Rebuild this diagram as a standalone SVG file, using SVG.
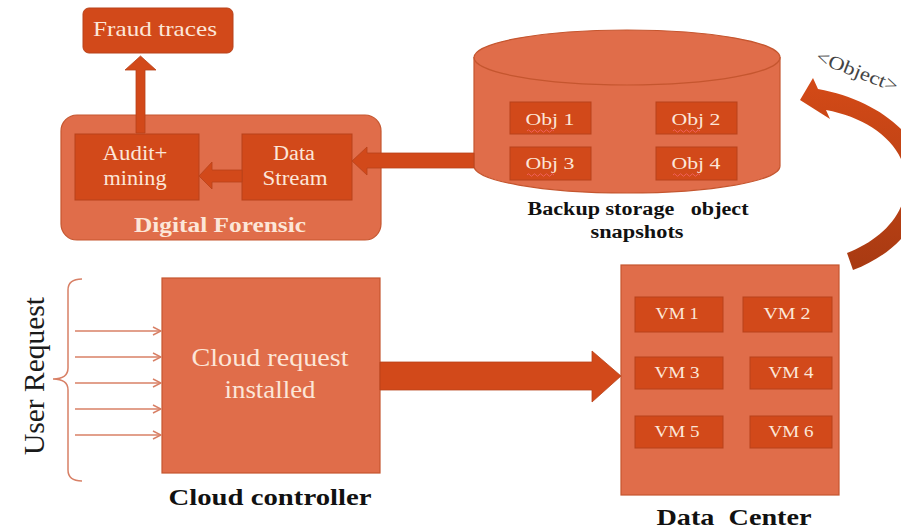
<svg xmlns="http://www.w3.org/2000/svg" width="901" height="532" viewBox="0 0 901 532">
<defs>
<style>
.light{fill:#E06D4A;stroke:#C5562F;stroke-width:1.2}
.dark{fill:#D2491A;stroke:#B8421A;stroke-width:1}
.fat{fill:#D2491A;stroke:#B8421A;stroke-width:0.8}
.in{font-family:"Liberation Serif","Times New Roman",serif;fill:#FCE6D8;text-anchor:middle}
.cap{font-family:"Liberation Serif","Times New Roman",serif;font-weight:bold;fill:#111;text-anchor:middle}
.thin{stroke:#D88066;stroke-width:1.5;fill:none}
.sq{stroke:#F0605A;stroke-width:1;fill:none}
</style>
<marker id="chev" viewBox="0 0 10 10" refX="9" refY="5" markerWidth="10" markerHeight="10" markerUnits="userSpaceOnUse" orient="auto">
<path d="M1 1 L9 5 L1 9" fill="none" stroke="#D88066" stroke-width="1.5"/>
</marker>
<linearGradient id="arcg" x1="0" y1="0" x2="0" y2="1">
<stop offset="0" stop-color="#D44A17"/>
<stop offset="1" stop-color="#A83A12"/>
</linearGradient>
</defs>

<g id="digital-forensic">
<rect class="light" x="61" y="115" width="320" height="125" rx="16"/>
<text class="in" x="220" y="232" font-size="21" font-weight="bold" textLength="172" lengthAdjust="spacingAndGlyphs">Digital Forensic</text>
</g>

<g id="fraud-traces">
<rect class="dark" x="83" y="8" width="150" height="45" rx="6"/>
<text class="in" x="155" y="36" font-size="21" textLength="124" lengthAdjust="spacingAndGlyphs">Fraud traces</text>
</g>

<g id="audit-mining">
<rect class="dark" x="75" y="134" width="124" height="66"/>
<text class="in" x="135" y="160" font-size="20" textLength="65" lengthAdjust="spacingAndGlyphs">Audit+</text>
<text class="in" x="135" y="185" font-size="20" textLength="63" lengthAdjust="spacingAndGlyphs">mining</text>
</g>

<g id="data-stream">
<rect class="dark" x="242" y="134" width="110" height="66"/>
<text class="in" x="294" y="160" font-size="20" textLength="42" lengthAdjust="spacingAndGlyphs">Data</text>
<text class="in" x="295" y="185" font-size="20" textLength="65" lengthAdjust="spacingAndGlyphs">Stream</text>
</g>

<g id="backup-storage">
<path class="light" d="M474 57.5 L474 166 A153 27 0 0 0 780 166 L780 57.5 Z"/>
<ellipse class="light" cx="627" cy="57.5" rx="153" ry="27.5"/>
<rect class="dark" x="510" y="102" width="81" height="32"/>
<rect class="dark" x="656" y="102" width="81" height="32"/>
<rect class="dark" x="510" y="147" width="81" height="33"/>
<rect class="dark" x="656" y="147" width="81" height="33"/>
<text class="in" x="550" y="125" font-size="17" textLength="49" lengthAdjust="spacingAndGlyphs">Obj 1</text>
<text class="in" x="696" y="125" font-size="17" textLength="49" lengthAdjust="spacingAndGlyphs">Obj 2</text>
<text class="in" x="550" y="169" font-size="17" textLength="49" lengthAdjust="spacingAndGlyphs">Obj 3</text>
<text class="in" x="696" y="169" font-size="17" textLength="49" lengthAdjust="spacingAndGlyphs">Obj 4</text>
<path class="sq" d="M527 131 q1.5 -2.5 3 0 t3 0 t3 0 t3 0 t3 0 t3 0 t3 0 t3 0 t3 0"/>
<path class="sq" d="M673 131 q1.5 -2.5 3 0 t3 0 t3 0 t3 0 t3 0 t3 0 t3 0 t3 0 t3 0"/>
<path class="sq" d="M527 175 q1.5 -2.5 3 0 t3 0 t3 0 t3 0 t3 0 t3 0 t3 0 t3 0 t3 0"/>
<path class="sq" d="M673 175 q1.5 -2.5 3 0 t3 0 t3 0 t3 0 t3 0 t3 0 t3 0 t3 0 t3 0"/>
<text class="cap" x="638" y="215" font-size="18" xml:space="preserve" textLength="221" lengthAdjust="spacingAndGlyphs">Backup storage   object</text>
<text class="cap" x="637" y="238" font-size="18" textLength="93" lengthAdjust="spacingAndGlyphs">snapshots</text>
</g>

<g id="user-request">
<text x="0" y="0" transform="translate(44,376) rotate(-90)" font-family="Liberation Serif, Times New Roman, serif" font-size="30" fill="#1a1a1a" text-anchor="middle" textLength="158" lengthAdjust="spacingAndGlyphs">User Request</text>
<path class="thin" d="M82 279 Q68 279 68 290 L68 368 Q68 379 53 379 Q68 379 68 390 L68 470 Q68 481 82 481"/>
</g>

<g id="cloud-controller">
<rect class="light" x="162" y="278" width="218" height="195"/>
<text class="in" x="270" y="366" font-size="26" textLength="157" lengthAdjust="spacingAndGlyphs">Cloud request</text>
<text class="in" x="270" y="398" font-size="26" textLength="91" lengthAdjust="spacingAndGlyphs">installed</text>
<text class="cap" x="270" y="505" font-size="23" textLength="203" lengthAdjust="spacingAndGlyphs">Cloud controller</text>
</g>

<g id="data-center">
<rect class="light" x="621" y="265" width="218" height="230"/>
<rect class="dark" x="635" y="297" width="88" height="35"/>
<rect class="dark" x="743" y="297" width="89" height="35"/>
<rect class="dark" x="635" y="357" width="88" height="32"/>
<rect class="dark" x="750" y="357" width="82" height="32"/>
<rect class="dark" x="635" y="416" width="88" height="32"/>
<rect class="dark" x="750" y="416" width="82" height="32"/>
<text class="in" x="677" y="319" font-size="16" textLength="43" lengthAdjust="spacingAndGlyphs">VM 1</text>
<text class="in" x="787" y="319" font-size="16" textLength="47" lengthAdjust="spacingAndGlyphs">VM 2</text>
<text class="in" x="677" y="378" font-size="16" textLength="45" lengthAdjust="spacingAndGlyphs">VM 3</text>
<text class="in" x="791" y="378" font-size="16" textLength="45" lengthAdjust="spacingAndGlyphs">VM 4</text>
<text class="in" x="677" y="437" font-size="16" textLength="45" lengthAdjust="spacingAndGlyphs">VM 5</text>
<text class="in" x="791" y="437" font-size="16" textLength="45" lengthAdjust="spacingAndGlyphs">VM 6</text>
<text class="cap" x="734" y="525" font-size="23" xml:space="preserve" textLength="155" lengthAdjust="spacingAndGlyphs">Data  Center</text>
</g>

<g id="connectors">
<path class="fat" d="M136 133 L136 70 L125 70 L140.5 56 L156 70 L145 70 L145 133 Z"/>
<path class="fat" d="M242 170 L212 170 L212 162 L199 176 L212 189 L212 182 L242 182 Z"/>
<path class="fat" d="M474 153 L367 153 L367 147 L352 161 L367 175 L367 168 L474 168 Z"/>
<path class="fat" d="M380 362 L592 362 L592 351 L621 376 L592 402 L592 390 L380 390 Z"/>
<line class="thin" x1="75" y1="331" x2="161" y2="331" marker-end="url(#chev)"/>
<line class="thin" x1="75" y1="357" x2="161" y2="357" marker-end="url(#chev)"/>
<line class="thin" x1="75" y1="383" x2="161" y2="383" marker-end="url(#chev)"/>
<line class="thin" x1="75" y1="409" x2="161" y2="409" marker-end="url(#chev)"/>
<line class="thin" x1="75" y1="435" x2="161" y2="435" marker-end="url(#chev)"/>
<path fill="url(#arcg)" d="M800 100 L813 78 L818 89 C880 100 928 140 925 185 C922 225 893 255 853 270 L847 253 C880 240 907 215 906 180 C905 145 870 118 826 110 L830 119 Z"/>
<text x="0" y="0" transform="translate(855,77) rotate(21)" font-family="Liberation Serif, Times New Roman, serif" font-size="19" fill="#444" text-anchor="middle" textLength="86" lengthAdjust="spacingAndGlyphs">&lt;Object&gt;</text>
</g>
</svg>
